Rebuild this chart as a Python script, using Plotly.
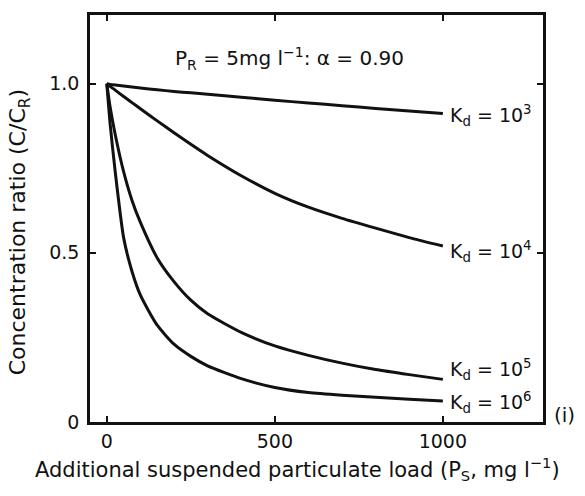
import plotly.graph_objects as go

# Additional suspended particulate load, P_S (mg l^-1)
load = [0, 10, 25, 50, 75, 100, 150, 200, 250, 300, 400, 500, 600, 700, 800, 900, 1000]

# Concentration ratio C/C_R for each partition coefficient K_d
ratio_kd3 = [1.0, 0.998, 0.996, 0.993, 0.990, 0.987, 0.982, 0.977, 0.973, 0.969, 0.960, 0.951,
             0.943, 0.935, 0.927, 0.919, 0.912]
ratio_kd4 = [1.0, 0.992, 0.981, 0.962, 0.944, 0.926, 0.890, 0.855, 0.821, 0.788, 0.728, 0.676,
             0.635, 0.602, 0.573, 0.545, 0.520]
ratio_kd5 = [1.0, 0.930, 0.850, 0.740, 0.655, 0.590, 0.485, 0.415, 0.360, 0.320, 0.265, 0.225,
             0.197, 0.174, 0.155, 0.140, 0.126]
ratio_kd6 = [1.0, 0.880, 0.740, 0.545, 0.445, 0.375, 0.286, 0.230, 0.194, 0.166, 0.128, 0.102,
             0.087, 0.079, 0.073, 0.067, 0.062]

# (exponent of K_d, values, label height)
series = [("3", ratio_kd3, 0.905), ("4", ratio_kd4, 0.505),
          ("5", ratio_kd5, 0.155), ("6", ratio_kd6, 0.058)]

x_ticks = [0, 500, 1000]
x_tick_text = ["0", "500", "1000"]
y_ticks = [0, 0.5, 1.0]
y_tick_text = ["0", "0.5", "1.0"]

FONT = "DejaVu Sans, Verdana, sans-serif"
INK = "#111111"

fig = go.Figure()
for exp, ys, _ in series:
    fig.add_trace(go.Scatter(
        x=load, y=ys, mode="lines",
        line=dict(color=INK, width=3, shape="spline", smoothing=0.6),
        showlegend=False, hoverinfo="skip"))

annotations = []
for exp, ys, ylab in series:
    annotations.append(dict(
        x=1015, y=ylab, xref="x", yref="y", xanchor="left", yanchor="middle",
        text=f"K<sub>d</sub> = 10<sup>{exp}</sup>", showarrow=False,
        font=dict(family=FONT, size=19, color=INK)))

annotations += [
    dict(x=196, y=1.074, xref="x", yref="y", xanchor="left", yanchor="middle",
         text="P<sub>R</sub> = 5mg l<sup>−1</sup>: α = 0.90", showarrow=False,
         font=dict(family=FONT, size=20, color=INK)),
    dict(x=1.02, y=0.02, xref="paper", yref="y", xanchor="left", yanchor="middle",
         text="(i)", showarrow=False, font=dict(family=FONT, size=20, color=INK)),
    dict(x=-0.125, y=-0.115, xref="paper", yref="paper", xanchor="left", yanchor="middle",
         text="Additional suspended particulate load (P<sub>S</sub>, mg l<sup>−1</sup>)",
         showarrow=False, font=dict(family=FONT, size=21, color=INK)),
    dict(x=-0.155, y=0.56, xref="paper", yref="y", xanchor="center", yanchor="middle",
         text="Concentration ratio (C/C<sub>R</sub>)", textangle=-90,
         showarrow=False, font=dict(family=FONT, size=22, color=INK)),
]

fig.update_layout(
    width=585, height=496,
    margin=dict(l=90, r=42, t=13, b=74),
    paper_bgcolor="white", plot_bgcolor="white",
    annotations=annotations,
    xaxis=dict(range=[-50, 1298], tickvals=x_ticks, ticktext=x_tick_text,
               ticks="inside", ticklen=6, tickwidth=2, tickcolor=INK,
               showline=True, linewidth=2.5, linecolor=INK, mirror="ticks",
               showgrid=False, zeroline=False,
               tickfont=dict(family=FONT, size=19, color=INK)),
    yaxis=dict(range=[0, 1.203], tickvals=y_ticks, ticktext=y_tick_text,
               ticks="inside", ticklen=6, tickwidth=2, tickcolor=INK,
               showline=True, linewidth=2.5, linecolor=INK, mirror="ticks",
               showgrid=False, zeroline=False, ticklabelstandoff=4,
               tickfont=dict(family=FONT, size=19, color=INK)),
)

fig.write_html("out.html")
